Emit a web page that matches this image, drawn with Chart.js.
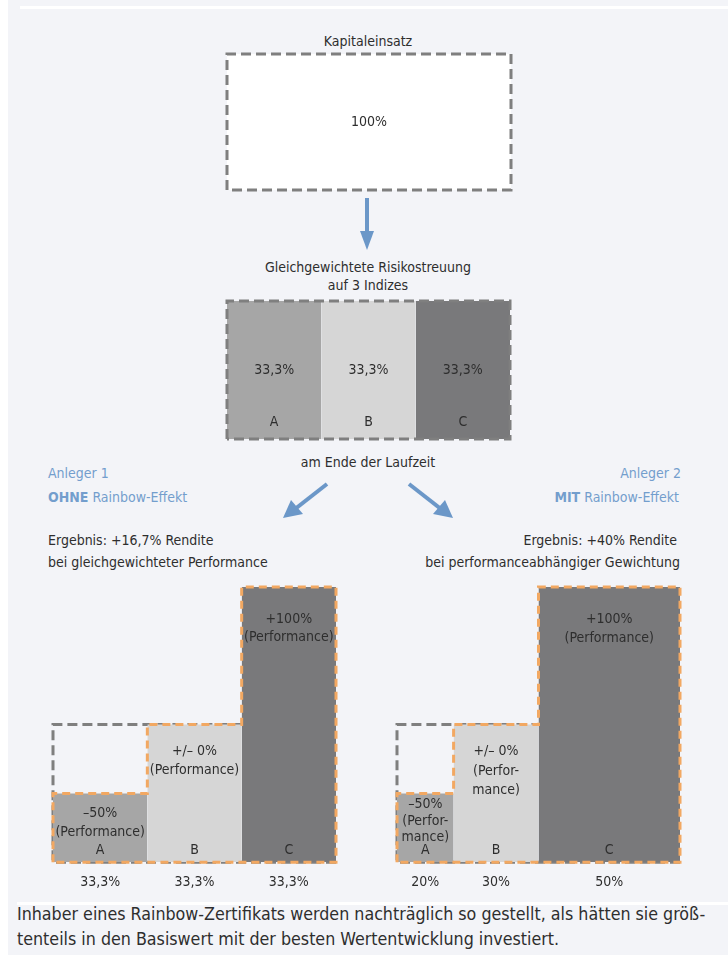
<!DOCTYPE html>
<html lang="de">
<head>
<meta charset="utf-8">
<title>Rainbow-Effekt</title>
<script src="https://cdn.jsdelivr.net/npm/chart.js@4/dist/chart.umd.min.js"></script>
<style>
  body { margin: 0; width: 728px; height: 955px; position: relative; overflow: hidden; background: #fff;
         font-family: "Liberation Sans Narrow", "DejaVu Sans Condensed", "Roboto", sans-serif; color: #2e2e2e; }
  #panel { position: absolute; left: 8px; top: 0; width: 720px; height: 955px; background: #f3f4f8; }
  .rule { position: absolute; height: 3px; background: #fff; }
  .t { position: absolute; font-size: 14px; line-height: 18px; white-space: nowrap; }
  .c { transform: translateX(-50%); }
  .r { transform: translateX(-100%); }
  .blue { color: #739ecd; }
  .box { position: absolute; }
  .box canvas { display: block; }
  #note { position: absolute; left: 17px; top: 902px; font-size: 17.7px; line-height: 25px; white-space: nowrap; }
  svg { position: absolute; left: 0; top: 0; }
</style>
</head>
<body>
<div id="panel"></div>
<div class="rule" style="left:20px; top:6px; width:708px;"></div>
<div class="rule" style="left:17px; top:902px; width:711px;"></div>

<div class="t c" style="left:368px; top:32px;">Kapitaleinsatz</div>
<div class="t c" style="left:368px; top:258px;">Gleichgewichtete Risikostreuung</div>
<div class="t c" style="left:368px; top:276px;">auf 3 Indizes</div>
<div class="t c" style="left:368px; top:453px;">am Ende der Laufzeit</div>

<div class="t blue" style="left:48px; top:464px;">Anleger 1</div>
<div class="t blue" style="left:48px; top:488px;"><b>OHNE</b> Rainbow-Effekt</div>
<div class="t" style="left:48px; top:531px;">Ergebnis: +16,7% Rendite</div>
<div class="t" style="left:48px; top:553px;">bei gleichgewichteter Performance</div>

<div class="t blue r" style="left:681px; top:464px;">Anleger 2</div>
<div class="t blue r" style="left:679px; top:488px;"><b>MIT</b> Rainbow-Effekt</div>
<div class="t r" style="left:677px; top:531px;">Ergebnis: +40% Rendite</div>
<div class="t r" style="left:680px; top:553px;">bei performanceabhängiger Gewichtung</div>

<div id="note">Inhaber eines Rainbow-Zertifikats werden nachträglich so gestellt, als hätten sie größ-<br>tenteils in den Basiswert mit der besten Wertentwicklung investiert.</div>

<svg width="728" height="955">
  <g fill="#6b97c8" stroke="#6b97c8">
    <line x1="367" y1="198" x2="367" y2="236" stroke-width="4"/>
    <polygon points="360,231 374,231 367,250" stroke="none"/>
    <line x1="327" y1="484" x2="295" y2="509" stroke-width="4"/>
    <polygon points="283,518 291,500 303,514" stroke="none"/>
    <line x1="409" y1="484" x2="441" y2="509" stroke-width="4"/>
    <polygon points="453,518 445,500 433,514" stroke="none"/>
  </g>
</svg>

<div class="box" style="left:223px; top:50px;"><canvas id="capital" width="292" height="144"></canvas></div>
<div class="box" style="left:223px; top:297px;"><canvas id="split" width="291" height="146"></canvas></div>
<div class="box" style="left:49px; top:583px;"><canvas id="ohne" width="291" height="322"></canvas></div>
<div class="box" style="left:393px; top:583px;"><canvas id="mit" width="291" height="322"></canvas></div>

<script>
// Kapital und Indizes
const capital = [100];
const indices = ['A', 'B', 'C'];
const equalWeights = [33.3, 33.3, 33.3];     // Anleger 1: gleichgewichtet
const rainbowWeights = [20, 30, 50];         // Anleger 2: performanceabhängig
const performance = [-50, 0, 100];           // Wertentwicklung je Index in %

const FONT = '"Liberation Sans Narrow", "DejaVu Sans Condensed", "Roboto", sans-serif';
const TEXT = '#2e2e2e';
const SHADES = ['#a6a6a6', '#d6d6d6', '#79797b'];
const GREY_LINE = '#7f7f7f';
const ORANGE_LINE = '#f2a862';

const fmtPct = v => v.toLocaleString('de-DE', { maximumFractionDigits: 1 }) + '%';
const fmtPerf = v => v === 0 ? '+/\u2013 0%' : (v < 0 ? '\u2013' + Math.abs(v) + '%' : '+' + v + '%');
const sum = a => a.reduce((s, v) => s + v, 0);
const edges = w => w.reduce((acc, v) => (acc.push(acc[acc.length - 1] + v), acc), [0]);

// Filled rectangle from x0 to x1, from zero up to h
function block(x0, x1, h, color) {
  return { data: [{ x: x0, y: h }, { x: x1, y: h }], fill: 'origin', backgroundColor: color,
           borderWidth: 0, pointRadius: 0, order: 3, clip: false };
}
function dashed(points, color, dash, order) {
  return { data: points, fill: false, borderColor: color, borderWidth: 3, borderDash: dash,
           borderCapStyle: 'butt', borderJoinStyle: 'miter', pointRadius: 0, order, clip: false };
}

// Text drawn inside the blocks, positioned through the chart scales
const blockText = {
  id: 'blockText',
  afterDatasetsDraw(chart, args, opts) {
    const { ctx, scales: { x, y } } = chart;
    ctx.save();
    ctx.fillStyle = TEXT;
    ctx.font = '14px ' + FONT;
    ctx.textAlign = 'center';
    ctx.textBaseline = 'middle';
    (opts.items || []).forEach(it => {
      const px = x.getPixelForValue(it.x);
      const py = y.getPixelForValue(it.y) + (it.dy || 0);
      it.lines.forEach((l, i) => ctx.fillText(l, px, py + i * (it.lh || 18.5)));
    });
    ctx.restore();
  }
};

function baseOptions(xmax, ymax, items, padding) {
  return {
    responsive: false, animation: false, events: [],
    layout: { padding },
    plugins: { legend: { display: false }, tooltip: { enabled: false }, blockText: { items } },
    scales: {
      x: { type: 'linear', min: 0, max: xmax, display: false },
      y: { type: 'linear', min: 0, max: ymax, display: false }
    }
  };
}

// Kapitaleinsatz
(function () {
  const total = capital[0];
  new Chart(document.getElementById('capital'), {
    type: 'line',
    data: { datasets: [
      block(0, total, total, '#ffffff'),
      dashed([{ x: 0, y: 0 }, { x: 0, y: total }, { x: total, y: total }, { x: total, y: 0 }, { x: 0, y: 0 }],
             GREY_LINE, [10, 5], 1)
    ] },
    options: baseOptions(total, total, [{ x: total / 2, y: total / 2, lines: [fmtPct(capital[0])] }], 4),
    plugins: [blockText]
  });
})();

// Gleichgewichtete Aufteilung
(function () {
  const e = edges(equalWeights);
  const total = sum(equalWeights);
  const h = capital[0];
  const sets = equalWeights.map((w, i) => block(e[i], e[i + 1], h, SHADES[i]));
  sets.push(dashed([{ x: 0, y: 0 }, { x: 0, y: h }, { x: total, y: h }, { x: total, y: 0 }, { x: 0, y: 0 }],
                   GREY_LINE, [10, 5], 1));
  const items = [];
  equalWeights.forEach((w, i) => {
    const cx = e[i] + w / 2;
    items.push({ x: cx, y: h / 2, lines: [fmtPct(w)] });
    items.push({ x: cx, y: 0, dy: -17, lines: [indices[i]] });
  });
  new Chart(document.getElementById('split'), {
    type: 'line',
    data: { datasets: sets },
    options: baseOptions(total, h, items, 4),
    plugins: [blockText]
  });
})();

// Endwerte je Index bei gegebener Gewichtung
function resultChart(id, weights, notes, offsets) {
  const e = edges(weights);
  const total = sum(weights);
  const base = capital[0];
  const values = performance.map(p => base * (1 + p / 100));
  const sets = weights.map((w, i) => block(e[i], e[i + 1], values[i], SHADES[i]));

  // ursprünglicher Kapitaleinsatz (gestrichelt grau)
  sets.push(dashed([{ x: total, y: 0 }, { x: 0, y: 0 }, { x: 0, y: base }, { x: total, y: base }],
                   GREY_LINE, [10, 5], 4));
  // Kontur nach Wertentwicklung (gestrichelt orange)
  const step = [{ x: 0, y: 0 }];
  values.forEach((v, i) => { step.push({ x: e[i], y: v }); step.push({ x: e[i + 1], y: v }); });
  step.push({ x: total, y: 0 }, { x: 0, y: 0 });
  sets.push(dashed(step, ORANGE_LINE, [8, 5], 1));

  const items = [];
  weights.forEach((w, i) => {
    const cx = e[i] + w / 2;
    items.push({ x: cx, y: values[i], dy: offsets[i][0], lh: offsets[i][1], lines: [fmtPerf(performance[i])].concat(notes[i]) });
    items.push({ x: cx, y: 0, dy: -12, lines: [indices[i]] });
  });
  const centers = weights.map((w, i) => e[i] + w / 2);

  const opts = baseOptions(total, Math.max(...values), items, { top: 4, left: 4, right: 4, bottom: 2 });
  opts.scales.x = {
    type: 'linear', min: 0, max: total, display: true,
    grid: { display: false, drawTicks: false }, border: { display: false },
    afterBuildTicks: s => { s.ticks = centers.map(v => ({ value: v })); },
    ticks: { autoSkip: false, maxRotation: 0, padding: 12, color: TEXT,
             font: { family: FONT, size: 14 },
             callback: (v, i) => fmtPct(weights[i]) }
  };
  new Chart(document.getElementById(id), {
    type: 'line',
    data: { datasets: sets },
    options: opts,
    plugins: [blockText]
  });
}

const wide = ['(Performance)'];
const narrow = ['(Perfor-', 'mance)'];
resultChart('ohne', equalWeights, [wide, wide, wide], [[20, 19], [27, 19], [32, 18.5]]);
resultChart('mit', rainbowWeights, [narrow, narrow, wide], [[11, 16.5], [27, 19.5], [32, 19]]);
</script>
</body>
</html>
